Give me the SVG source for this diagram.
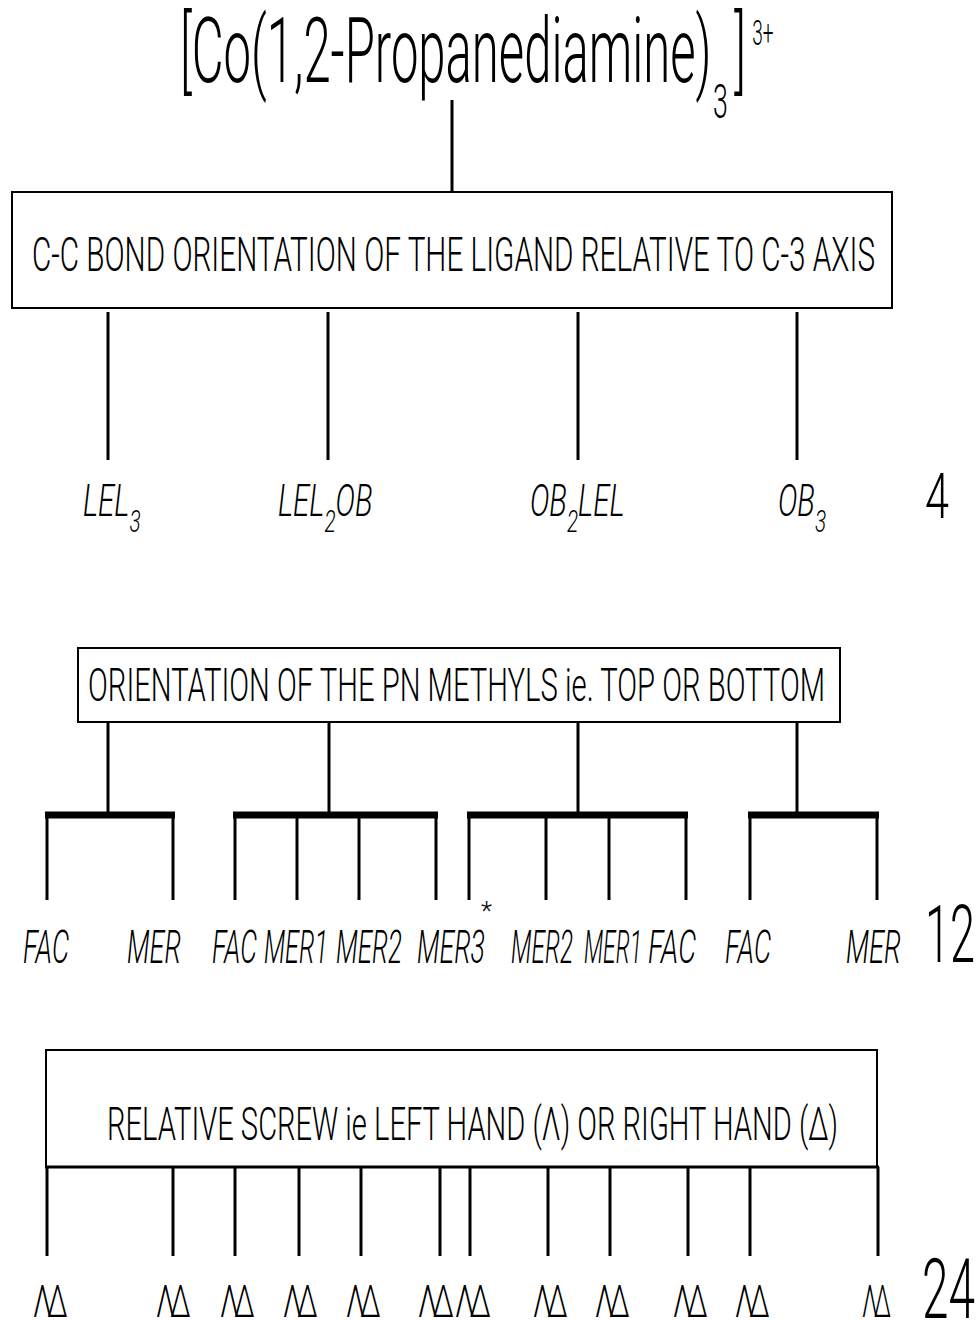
<svg xmlns="http://www.w3.org/2000/svg" width="979" height="1320" viewBox="0 0 979 1320">
<style>
.t{font-family:Roboto,"Liberation Sans",Arial,sans-serif;font-weight:300;fill:#000}
.i{font-style:italic}
.box{fill:#fff;stroke:#000;stroke-width:2}
.ln{stroke:#000;stroke-width:3;fill:none}
.bar{stroke:#000;stroke-width:7;fill:none}
.sym{font-family:Roboto,"Liberation Sans",Arial,sans-serif;font-weight:300;font-size:44px;letter-spacing:-7px;fill:#000}
</style>
<rect width="979" height="1320" fill="#fff"/>

<g id="title">
<text class="t" font-size="90" transform="translate(180 82) scale(0.545 1)">[Co(1,2-Propanediamine)<tspan x="978" y="36" font-size="49">3</tspan><tspan x="1017" y="0">]</tspan><tspan x="1050" y="-37" font-size="35">3+</tspan></text>
</g>

<g id="box1">
<rect class="box" x="12" y="192" width="880" height="116"/>
<text class="t" x="32" y="271" font-size="48" textLength="843" lengthAdjust="spacingAndGlyphs">C-C BOND ORIENTATION OF THE LIGAND RELATIVE TO C-3 AXIS</text>
</g>

<g id="lel3"><text class="t i" font-size="44" transform="translate(83 516) scale(0.67 1)">LEL<tspan dy="16" font-size="31">3</tspan></text></g>
<g id="lel2ob"><text class="t i" font-size="44" transform="translate(278 516) scale(0.67 1)">LEL<tspan dy="16" font-size="31">2</tspan><tspan dy="-16">OB</tspan></text></g>
<g id="ob2lel"><text class="t i" font-size="44" transform="translate(530 516) scale(0.67 1)">OB<tspan dy="16" font-size="31">2</tspan><tspan dy="-16">LEL</tspan></text></g>
<g id="ob3"><text class="t i" font-size="44" transform="translate(778 516) scale(0.67 1)">OB<tspan dy="16" font-size="31">3</tspan></text></g>
<g id="count4"><text class="t" x="925" y="518" font-size="63" textLength="24" lengthAdjust="spacingAndGlyphs">4</text></g>

<g id="box2">
<rect class="box" x="78" y="648" width="762" height="74"/>
<text class="t" x="88" y="701" font-size="46" textLength="737" lengthAdjust="spacingAndGlyphs">ORIENTATION OF THE PN METHYLS ie. TOP OR BOTTOM</text>
</g>

<g id="row2labels">
<text class="t i" x="23" y="963" font-size="46" textLength="46" lengthAdjust="spacingAndGlyphs">FAC</text>
<text class="t i" x="127" y="963" font-size="46" textLength="54" lengthAdjust="spacingAndGlyphs">MER</text>
<text class="t i" x="212" y="963" font-size="46" textLength="45" lengthAdjust="spacingAndGlyphs">FAC</text>
<text class="t i" x="264" y="963" font-size="46" textLength="64" lengthAdjust="spacingAndGlyphs">MER1</text>
<text class="t i" x="336" y="963" font-size="46" textLength="66" lengthAdjust="spacingAndGlyphs">MER2</text>
<text class="t i" x="417" y="963" font-size="46" textLength="68" lengthAdjust="spacingAndGlyphs">MER3</text>
<text class="t" x="481" y="920" font-size="26">*</text>
<text class="t i" x="511" y="963" font-size="46" textLength="62" lengthAdjust="spacingAndGlyphs">MER2</text>
<text class="t i" x="584" y="963" font-size="46" textLength="58" lengthAdjust="spacingAndGlyphs">MER1</text>
<text class="t i" x="648" y="963" font-size="46" textLength="48" lengthAdjust="spacingAndGlyphs">FAC</text>
<text class="t i" x="725" y="963" font-size="46" textLength="46" lengthAdjust="spacingAndGlyphs">FAC</text>
<text class="t i" x="846" y="963" font-size="46" textLength="55" lengthAdjust="spacingAndGlyphs">MER</text>
</g>
<g id="count12"><text class="t" x="925" y="962" font-size="80" textLength="50" lengthAdjust="spacingAndGlyphs">12</text></g>

<g id="box3">
<rect class="box" x="46" y="1050" width="831" height="117"/>
<line class="ln" x1="45" y1="1167" x2="879" y2="1167"/>
<text class="t" x="107" y="1140" font-size="46" textLength="731" lengthAdjust="spacingAndGlyphs">RELATIVE SCREW ie LEFT HAND (Λ) OR RIGHT HAND (Δ)</text>
</g>

<g id="screws">
<text class="sym" x="33" y="1317" textLength="30" lengthAdjust="spacingAndGlyphs">ΛΔ</text>
<text class="sym" x="156" y="1317" textLength="30" lengthAdjust="spacingAndGlyphs">ΛΔ</text>
<text class="sym" x="220" y="1317" textLength="30" lengthAdjust="spacingAndGlyphs">ΛΔ</text>
<text class="sym" x="283" y="1317" textLength="30" lengthAdjust="spacingAndGlyphs">ΛΔ</text>
<text class="sym" x="346" y="1317" textLength="30" lengthAdjust="spacingAndGlyphs">ΛΔ</text>
<text class="sym" x="418" y="1317" textLength="31" lengthAdjust="spacingAndGlyphs">ΛΔ</text>
<text class="sym" x="455" y="1317" textLength="31" lengthAdjust="spacingAndGlyphs">ΛΔ</text>
<text class="sym" x="533" y="1317" textLength="30" lengthAdjust="spacingAndGlyphs">ΛΔ</text>
<text class="sym" x="595" y="1317" textLength="30" lengthAdjust="spacingAndGlyphs">ΛΔ</text>
<text class="sym" x="673" y="1317" textLength="30" lengthAdjust="spacingAndGlyphs">ΛΔ</text>
<text class="sym" x="735" y="1317" textLength="30" lengthAdjust="spacingAndGlyphs">ΛΔ</text>
<text class="sym" x="862" y="1317" textLength="25" lengthAdjust="spacingAndGlyphs">ΛΔ</text>
</g>
<g id="count24"><text class="t" x="922" y="1318" font-size="84" textLength="53" lengthAdjust="spacingAndGlyphs">24</text></g>

<g id="connectors">
<line class="ln" x1="452" y1="100" x2="452" y2="192"/>
<line class="ln" x1="108" y1="312" x2="108" y2="460"/>
<line class="ln" x1="328" y1="312" x2="328" y2="460"/>
<line class="ln" x1="578" y1="312" x2="578" y2="460"/>
<line class="ln" x1="797" y1="312" x2="797" y2="460"/>

<line class="ln" x1="108" y1="723" x2="108" y2="814"/>
<line class="ln" x1="329" y1="723" x2="329" y2="814"/>
<line class="ln" x1="578" y1="723" x2="578" y2="814"/>
<line class="ln" x1="797" y1="723" x2="797" y2="814"/>

<line class="bar" x1="45" y1="815" x2="175" y2="815"/>
<line class="bar" x1="233" y1="815" x2="438" y2="815"/>
<line class="bar" x1="467" y1="815" x2="688" y2="815"/>
<line class="bar" x1="748" y1="815" x2="879" y2="815"/>

<line class="ln" x1="47" y1="815" x2="47" y2="900"/>
<line class="ln" x1="173" y1="815" x2="173" y2="900"/>
<line class="ln" x1="235" y1="815" x2="235" y2="900"/>
<line class="ln" x1="297" y1="815" x2="297" y2="900"/>
<line class="ln" x1="359" y1="815" x2="359" y2="900"/>
<line class="ln" x1="436" y1="815" x2="436" y2="900"/>
<line class="ln" x1="469" y1="815" x2="469" y2="900"/>
<line class="ln" x1="546" y1="815" x2="546" y2="900"/>
<line class="ln" x1="609" y1="815" x2="609" y2="900"/>
<line class="ln" x1="686" y1="815" x2="686" y2="900"/>
<line class="ln" x1="750" y1="815" x2="750" y2="900"/>
<line class="ln" x1="877" y1="815" x2="877" y2="900"/>

<line class="ln" x1="47" y1="1167" x2="47" y2="1256"/>
<line class="ln" x1="173" y1="1167" x2="173" y2="1256"/>
<line class="ln" x1="235" y1="1167" x2="235" y2="1256"/>
<line class="ln" x1="299" y1="1167" x2="299" y2="1256"/>
<line class="ln" x1="361" y1="1167" x2="361" y2="1256"/>
<line class="ln" x1="440" y1="1167" x2="440" y2="1256"/>
<line class="ln" x1="470" y1="1167" x2="470" y2="1256"/>
<line class="ln" x1="548" y1="1167" x2="548" y2="1256"/>
<line class="ln" x1="610" y1="1167" x2="610" y2="1256"/>
<line class="ln" x1="688" y1="1167" x2="688" y2="1256"/>
<line class="ln" x1="750" y1="1167" x2="750" y2="1256"/>
<line class="ln" x1="878" y1="1167" x2="878" y2="1256"/>
</g>
</svg>
